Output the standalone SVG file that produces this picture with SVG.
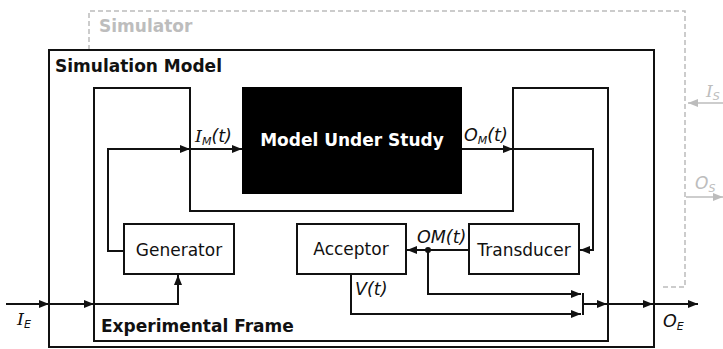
<svg xmlns="http://www.w3.org/2000/svg" width="723" height="349" viewBox="0 0 723 349">
  <style>
    .box { fill: #fff; stroke: #111; stroke-width: 2; }
    .frame { fill: none; stroke: #111; stroke-width: 2; }
    .wire { fill: none; stroke: #111; stroke-width: 2; }
    .ghost { fill: none; stroke: #bcbcbc; stroke-width: 1.5; }
    .dash { stroke-dasharray: 5 3; }
    .title { font-family: "DejaVu Sans", Verdana, sans-serif; font-weight: bold; font-size: 17px; fill: #111; }
    .ghost-title { font-family: "DejaVu Sans", Verdana, sans-serif; font-weight: bold; font-size: 17px; fill: #bdbdbd; }
    .name { font-family: "DejaVu Sans", Verdana, sans-serif; font-size: 17px; fill: #111; text-anchor: middle; }
    .sig { font-family: "DejaVu Sans", Verdana, sans-serif; font-style: italic; font-size: 17.5px; fill: #111; }
    .sig-ghost { font-family: "DejaVu Sans", Verdana, sans-serif; font-style: italic; font-size: 17px; fill: #bdbdbd; }
    .serifI { font-family: "DejaVu Serif", "Liberation Serif", serif; }
    .sub { font-size: 11px; }
  </style>
  <defs>
    <marker id="arrow" markerUnits="userSpaceOnUse" markerWidth="11" markerHeight="9" refX="10" refY="4" orient="auto">
      <path d="M0,0 L10,4 L0,8 Z" fill="#111"/>
    </marker>
    <marker id="arrow-ghost" markerUnits="userSpaceOnUse" markerWidth="11" markerHeight="9" refX="10" refY="4" orient="auto">
      <path d="M0,0 L10,4 L0,8 Z" fill="#bcbcbc"/>
    </marker>
  </defs>

  <!-- Simulator (dashed, grey) -->
  <g id="simulator">
    <path class="ghost dash" d="M89,50 V11 H685 V287 H660"/>
    <text class="ghost-title" x="99" y="32">Simulator</text>
    <line class="ghost" x1="723" y1="103" x2="688" y2="103" marker-end="url(#arrow-ghost)"/>
    <text class="sig-ghost" x="706" y="97"><tspan class="serifI">I</tspan><tspan class="sub" dy="3">S</tspan></text>
    <line class="ghost" x1="686" y1="197" x2="723" y2="197" marker-end="url(#arrow-ghost)"/>
    <text class="sig-ghost" x="695" y="189">O<tspan class="sub" dy="3">S</tspan></text>
  </g>

  <!-- Simulation Model -->
  <g id="simulation-model">
    <rect class="frame" x="49" y="50" width="605" height="297"/>
    <text class="title" x="55" y="72">Simulation Model</text>
  </g>

  <!-- Experimental Frame wraps around the model under study -->
  <g id="experimental-frame">
    <path class="frame" d="M94,88 V341 H608 V88 H513 V211 H190 V88 Z"/>
    <text class="title" x="101" y="332">Experimental Frame</text>
  </g>

  <!-- Model Under Study -->
  <g id="model-under-study">
    <rect x="242" y="87" width="220" height="107" fill="#000"/>
    <text x="352" y="146" font-family="DejaVu Sans, Verdana, sans-serif" font-weight="bold" font-size="17" fill="#fff" text-anchor="middle">Model Under Study</text>
  </g>

  <g id="generator">
    <rect class="box" x="124" y="224" width="110" height="50"/>
    <text class="name" x="179" y="256">Generator</text>
  </g>

  <g id="acceptor">
    <rect class="box" x="297" y="224" width="109" height="50"/>
    <text class="name" x="351" y="255">Acceptor</text>
  </g>

  <g id="transducer">
    <rect class="box" x="469" y="224" width="110" height="50"/>
    <text class="name" x="524" y="256">Transducer</text>
  </g>

  <!-- Connectors -->
  <g id="connectors">
    <!-- external input I_E -->
    <line class="wire" x1="6" y1="304" x2="49" y2="304" marker-end="url(#arrow)"/>
    <line class="wire" x1="49" y1="304" x2="94" y2="304" marker-end="url(#arrow)"/>
    <path class="wire" d="M94,304 H178 V275" marker-end="url(#arrow)"/>

    <!-- generator to model input I_M(t) -->
    <path class="wire" d="M124,251 H108 V149 H190" marker-end="url(#arrow)"/>
    <line class="wire" x1="190" y1="149" x2="242" y2="149" marker-end="url(#arrow)"/>

    <!-- model output O_M(t) to transducer -->
    <line class="wire" x1="462" y1="149" x2="513" y2="149" marker-end="url(#arrow)"/>
    <path class="wire" d="M513,149 H593 V250 H580" marker-end="url(#arrow)"/>

    <!-- transducer to acceptor OM(t) -->
    <line class="wire" x1="469" y1="250" x2="407" y2="250" marker-end="url(#arrow)"/>
    <circle cx="428" cy="250" r="3" fill="#111"/>
    <path class="wire" d="M428,250 V294 H581" marker-end="url(#arrow)"/>

    <!-- acceptor verdict V(t) -->
    <path class="wire" d="M351,274 V314 H581" marker-end="url(#arrow)"/>

    <!-- merge to external output O_E -->
    <line class="wire" x1="583" y1="293" x2="583" y2="315"/>
    <line class="wire" x1="583" y1="304" x2="607" y2="304" marker-end="url(#arrow)"/>
    <line class="wire" x1="607" y1="304" x2="653" y2="304" marker-end="url(#arrow)"/>
    <line class="wire" x1="653" y1="304" x2="698" y2="304" marker-end="url(#arrow)"/>

    <!-- signal labels -->
    <text class="sig" x="17" y="325"><tspan class="serifI">I</tspan><tspan class="sub" dy="3">E</tspan></text>
    <text class="sig" x="195" y="142"><tspan class="serifI">I</tspan><tspan class="sub" dy="3">M</tspan><tspan dy="-3">(t)</tspan></text>
    <text class="sig" x="464" y="141">O<tspan class="sub" dy="3">M</tspan><tspan dy="-3">(t)</tspan></text>
    <text class="sig" x="417" y="243">OM(t)</text>
    <text class="sig" x="355" y="295">V(t)</text>
    <text class="sig" x="663" y="327">O<tspan class="sub" dy="3">E</tspan></text>
  </g>
</svg>
